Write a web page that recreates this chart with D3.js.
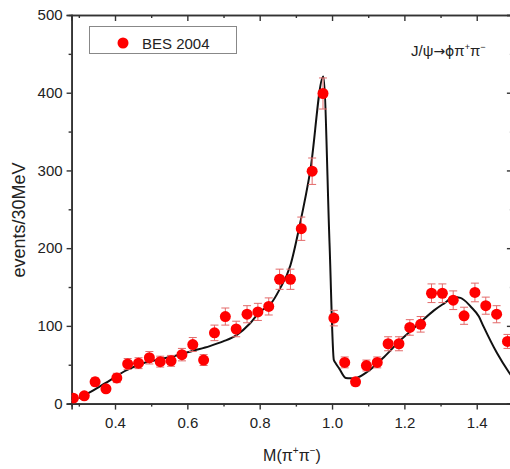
<!DOCTYPE html>
<html>
<head>
<meta charset="utf-8">
<script src="https://cdn.jsdelivr.net/npm/d3@7"></script>
<style>
  body { margin: 0; background: #fff; }
  text { font-family: "Liberation Sans", Arial, sans-serif; fill: #222; }
</style>
</head>
<body>
<svg id="chart"></svg>
<script>
// chart size
const width = 510;
const height = 469;

// BES 2004 data points
const massX = [0.285, 0.315, 0.345, 0.375, 0.405, 0.435, 0.465, 0.495, 0.525, 0.555,
  0.585, 0.615, 0.645, 0.675, 0.705, 0.735, 0.765, 0.795, 0.825, 0.855,
  0.885, 0.915, 0.945, 0.975, 1.005, 1.035, 1.065, 1.095, 1.125, 1.155,
  1.185, 1.215, 1.245, 1.275, 1.305, 1.335, 1.365, 1.395, 1.425, 1.455, 1.485];
const events = [7, 10, 28, 19, 33, 51, 52, 59, 54, 55,
  63, 76, 56, 91, 112, 96, 115, 118, 125, 160,
  160, 225, 299, 399, 110, 53, 28, 49, 53, 77,
  77, 98, 102, 142, 142, 133, 113, 143, 126, 115, 80];
const errors = [3, 3, 5, 4, 6, 7, 7, 8, 7, 7,
  8, 9, 7, 10, 11, 10, 11, 11, 11, 13,
  13, 15, 17, 20, 10, 7, 5, 7, 7, 9,
  9, 10, 10, 12, 12, 12, 11, 12, 11, 11, 9];

// fit curve
const fitX = [0.300, 0.340, 0.386, 0.432, 0.478, 0.524, 0.570, 0.616, 0.662, 0.699,
  0.736, 0.773, 0.800, 0.830, 0.855, 0.885, 0.910, 0.940, 0.976, 0.993,
  1.005, 1.010, 1.020, 1.038, 1.050, 1.066, 1.098, 1.144, 1.190, 1.236, 1.282, 1.310,
  1.337, 1.355, 1.383, 1.406, 1.419, 1.456, 1.488, 1.500];
const fitY = [7, 17, 30, 43, 52, 57, 62, 68, 74, 80,
  88, 103, 118, 128, 147, 178, 228, 300, 421, 207,
  56, 52, 45, 33, 32.5, 33, 41, 60, 82, 101, 120, 129,
  137, 136, 125, 112, 99, 65, 41, 33];

const xTicks = [0.4, 0.6, 0.8, 1.0, 1.2, 1.4];
const xMinor = [0.3, 0.5, 0.7, 0.9, 1.1, 1.3, 1.5];
const yTicks = [0, 100, 200, 300, 400, 500];
const yMinor = [50, 150, 250, 350, 450];

const svg = d3.select('#chart').attr('width', width).attr('height', height);

const x = d3.scaleLinear().domain([0.28, 1.5]).range([71.6, 512.9]);
const y = d3.scaleLinear().domain([0, 500]).range([403.6, 15]);

svg.append('clipPath').attr('id', 'clip')
  .append('rect')
  .attr('x', x.range()[0]).attr('y', y.range()[1])
  .attr('width', x.range()[1] - x.range()[0])
  .attr('height', y.range()[0] - y.range()[1]);

const axisColor = '#333';

// axes: bottom/left outward, top/right inward
function styleAxis(g) {
  g.select('.domain').attr('stroke', axisColor).attr('stroke-width', 1.6);
  g.selectAll('.tick line').attr('stroke', axisColor).attr('stroke-width', 1.4);
  g.selectAll('.tick text').style('font-size', '15px').attr('fill', '#222');
}

svg.append('g')
  .attr('transform', `translate(0,${y(0)})`)
  .call(d3.axisBottom(x).tickValues(xTicks).tickSize(6).tickPadding(8).tickFormat(d3.format('.1f')))
  .call(styleAxis);
svg.append('g')
  .attr('transform', `translate(0,${y(0)})`)
  .call(d3.axisBottom(x).tickValues(xMinor).tickSize(3).tickFormat(''))
  .call(styleAxis);

svg.append('g')
  .attr('transform', `translate(0,${y(500)})`)
  .call(d3.axisBottom(x).tickValues(xTicks).tickSize(6).tickFormat(''))
  .call(styleAxis);
svg.append('g')
  .attr('transform', `translate(0,${y(500)})`)
  .call(d3.axisBottom(x).tickValues(xMinor).tickSize(3).tickFormat(''))
  .call(styleAxis);

svg.append('g')
  .attr('transform', `translate(${x(0.28)},0)`)
  .call(d3.axisLeft(y).tickValues(yTicks).tickSize(5).tickPadding(4))
  .call(styleAxis);
svg.append('g')
  .attr('transform', `translate(${x(0.28)},0)`)
  .call(d3.axisLeft(y).tickValues(yMinor).tickSize(3).tickFormat(''))
  .call(styleAxis);

svg.append('g')
  .attr('transform', `translate(${x(1.5)},0)`)
  .call(d3.axisLeft(y).tickValues(yTicks).tickSize(6).tickFormat(''))
  .call(styleAxis);
svg.append('g')
  .attr('transform', `translate(${x(1.5)},0)`)
  .call(d3.axisLeft(y).tickValues(yMinor).tickSize(3).tickFormat(''))
  .call(styleAxis);

const plot = svg.append('g').attr('clip-path', 'url(#clip)');

// fit line
const line = d3.line()
  .x((d, i) => x(fitX[i]))
  .y(d => y(d))
  .curve(d3.curveMonotoneX);

plot.append('path')
  .datum(fitY)
  .attr('d', line)
  .attr('fill', 'none')
  .attr('stroke', '#111')
  .attr('stroke-width', 2);

// error bars
const pts = massX.map((m, i) => ({ m, v: events[i], e: errors[i] }));
const bars = plot.append('g')
  .attr('stroke', '#e36a6a')
  .attr('stroke-width', 1);
bars.selectAll('.err')
  .data(pts)
  .enter().append('path')
  .attr('class', 'err')
  .attr('fill', 'none')
  .attr('d', d => {
    const cx = x(d.m), y1 = y(d.v + d.e), y2 = y(d.v - d.e);
    return `M${cx - 4},${y1}H${cx + 4}M${cx},${y1}V${y2}M${cx - 4},${y2}H${cx + 4}`;
  });

plot.selectAll('.pt')
  .data(pts)
  .enter().append('circle')
  .attr('class', 'pt')
  .attr('cx', d => x(d.m))
  .attr('cy', d => y(d.v))
  .attr('r', 5.5)
  .attr('fill', '#f00');

// legend
const legend = svg.append('g');
legend.append('rect')
  .attr('x', 89.5).attr('y', 26.5)
  .attr('width', 147).attr('height', 27)
  .attr('fill', '#fff')
  .attr('stroke', '#888')
  .attr('stroke-width', 1);
legend.append('circle')
  .attr('cx', 123).attr('cy', 43).attr('r', 5.5).attr('fill', '#f00');
legend.append('text')
  .attr('x', 142).attr('y', 48.5)
  .style('font-size', '15px')
  .text('BES 2004');

// reaction label
const react = svg.append('text')
  .attr('x', 411).attr('y', 56)
  .style('font-size', '15px');
react.append('tspan').text('J/ψ');
react.append('tspan').style('font-family', 'DejaVu Sans').style('font-size', '14px').text('→');
react.append('tspan').style('font-family', 'DejaVu Sans').style('font-size', '14px').text('ϕ');
react.append('tspan').text('π');
react.append('tspan').attr('dy', -6).style('font-size', '9px').text('+');
react.append('tspan').attr('dy', 6).text('π');
react.append('tspan').attr('dy', -6).style('font-size', '9px').text('−');

// axis titles
const xt = svg.append('text')
  .attr('x', 292).attr('y', 461)
  .attr('text-anchor', 'middle')
  .style('font-size', '16px');
xt.append('tspan').text('M(π');
xt.append('tspan').attr('dy', -7).style('font-size', '10px').text('+');
xt.append('tspan').attr('dy', 7).text('π');
xt.append('tspan').attr('dy', -7).style('font-size', '10px').text('−');
xt.append('tspan').attr('dy', 7).text(')');

svg.append('text')
  .attr('transform', 'translate(25,220) rotate(-90)')
  .attr('text-anchor', 'middle')
  .style('font-size', '18px')
  .text('events/30MeV');
</script>
</body>
</html>
